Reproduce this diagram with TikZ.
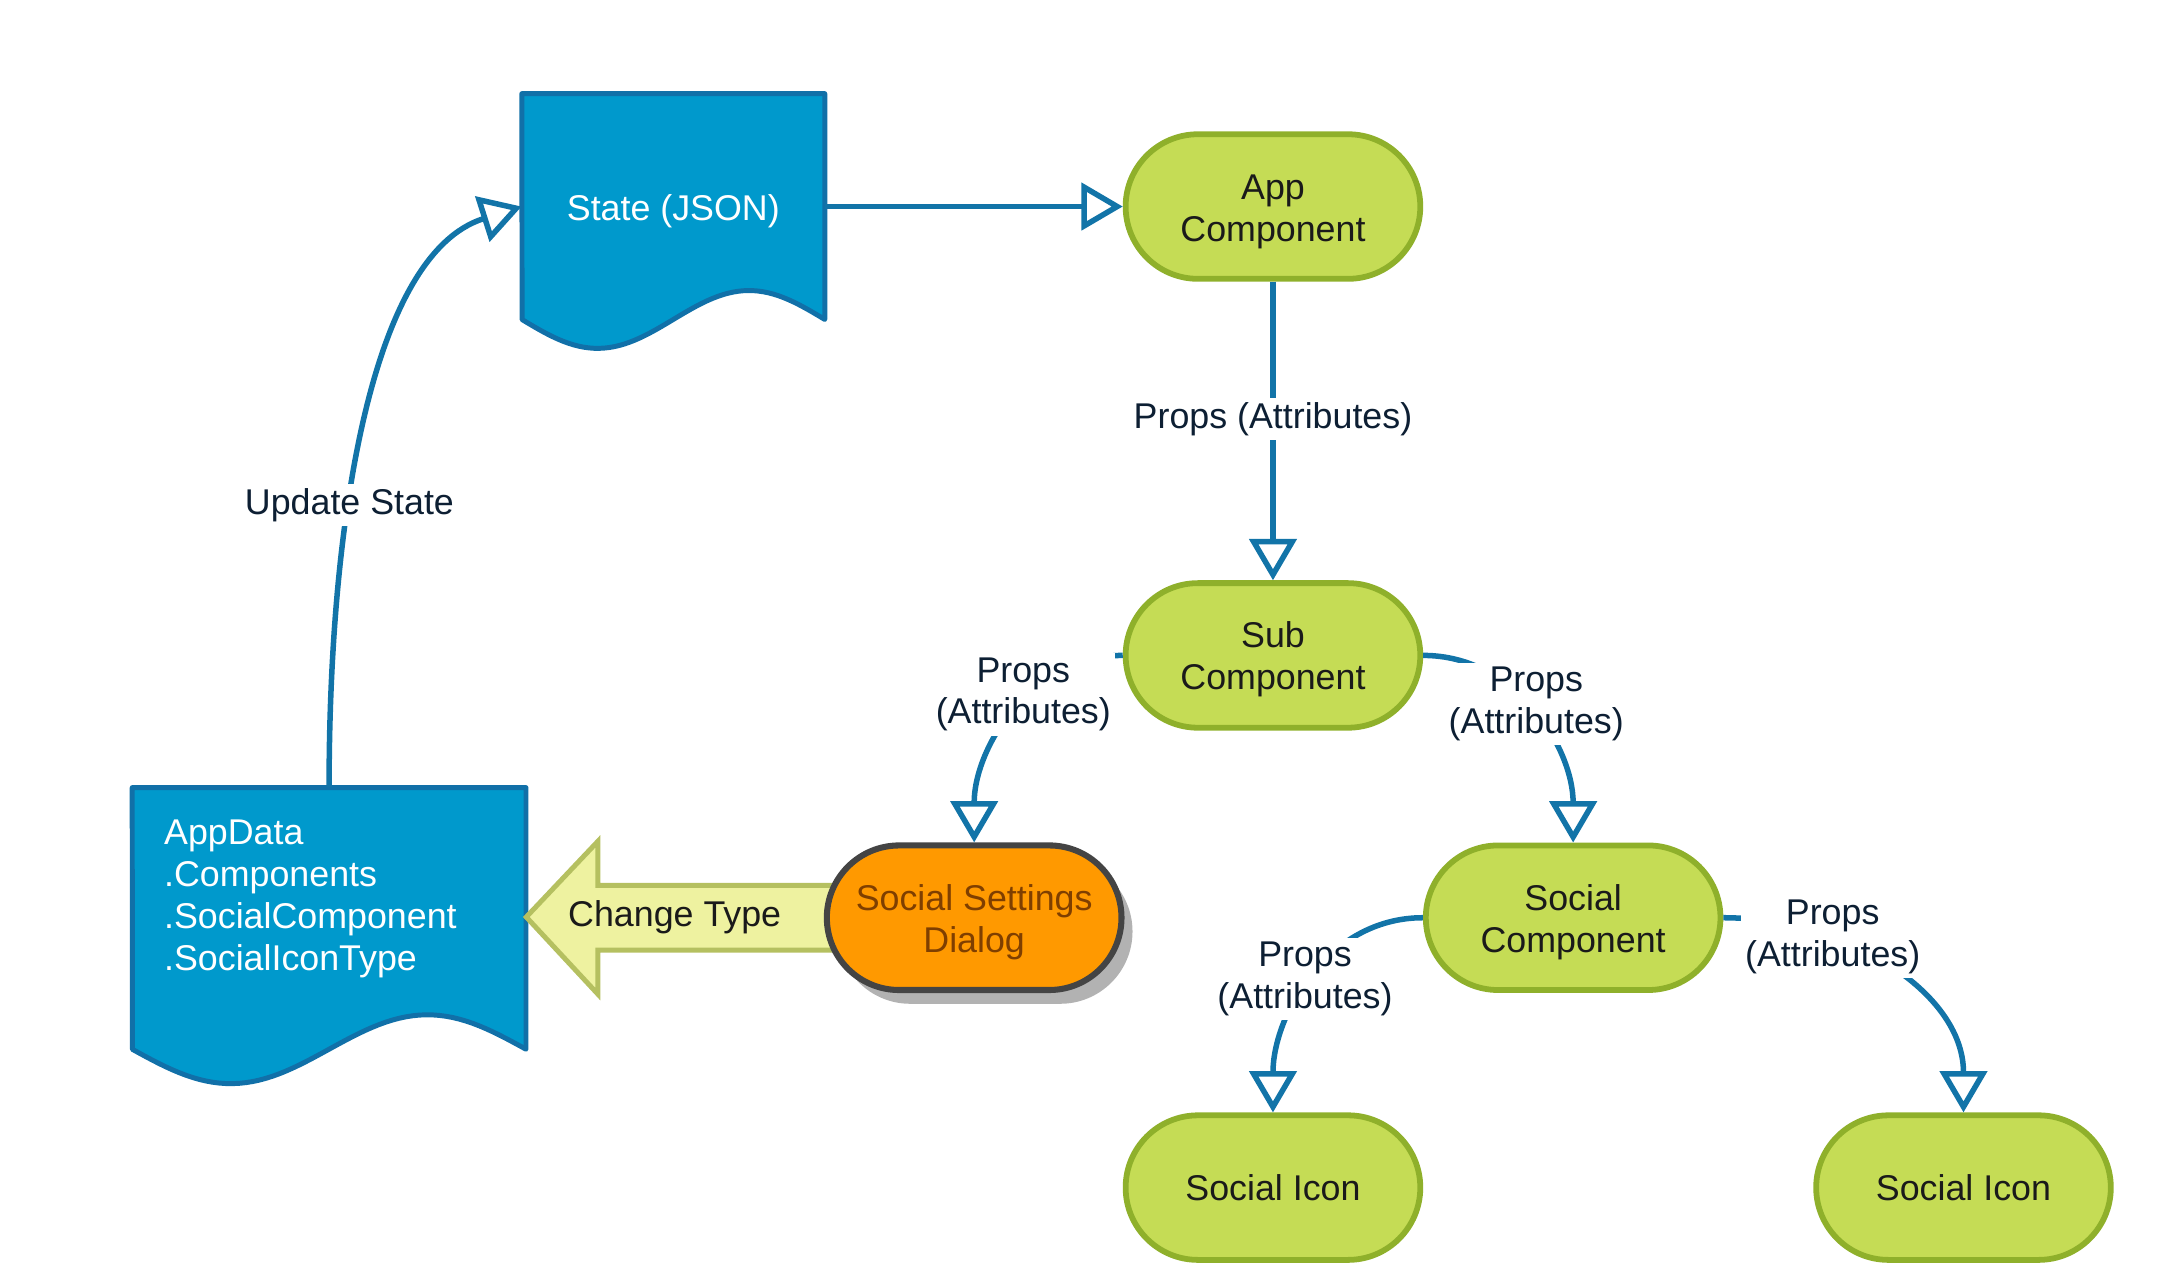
\documentclass[tikz,border=0pt]{standalone}
\usepackage{fontspec}
\setmainfont{Liberation Sans}
\usetikzlibrary{arrows.meta,shapes.misc,shadows,calc}
\definecolor{gfill}{HTML}{C5DC55}
\definecolor{gborder}{HTML}{8FB02B}
\definecolor{bfill}{HTML}{0099CC}
\definecolor{bborder}{HTML}{1170A8}
\definecolor{conncol}{HTML}{1274A8}
\definecolor{ofill}{HTML}{FF9900}
\definecolor{oborder}{HTML}{444444}
\definecolor{otext}{HTML}{7F3F00}
\definecolor{lblcol}{HTML}{0D1F33}
\definecolor{txtdark}{HTML}{1A1A1A}
\definecolor{yfill}{HTML}{EEF2A0}
\definecolor{yborder}{HTML}{B5C060}
\newcommand\dgfont{\fontsize{26}{30.5}\selectfont}
\newcommand\dgup{\rule{0pt}{25pt}}
\begin{document}
\begin{tikzpicture}[x=1pt,y=-1pt,
  comp/.style={rounded rectangle, draw=gborder, fill=gfill, line width=4.2pt,
    minimum width=214pt, minimum height=105pt, inner sep=0pt, align=center,
    text=txtdark, font=\dgfont},
  dialogbox/.style={comp, draw=oborder, fill=ofill, text=otext, line width=4.4pt,
    drop shadow={shadow xshift=8pt, shadow yshift=-10pt, fill=black!30, opacity=1}},
  docshape/.style={draw=bborder, fill=bfill, line width=3.6pt, line join=round},
  docnode/.style={rectangle, inner sep=0pt, text=white, font=\dgfont, align=center},
  conn/.style={draw=conncol, line width=4pt,
    -{Triangle[length=30pt,width=34pt,fill=white,line join=miter]}},
  lbl/.style={fill=white, text=lblcol, font=\dgfont, align=center, inner sep=3pt},
  changearrow/.style={draw=yborder, fill=yfill, line width=3.6pt, line join=miter}]
\useasboundingbox (0,0) rectangle (1568,935);

% documents
\draw[docshape] (379,68) -- (599,68) -- (599,232)
  -- plot[domain=1:0,samples=60] ({379+220*\x},{232+21*sin(360*\x)}) -- cycle;
\node[docnode, minimum width=220pt, minimum height=164pt] (state) at (489,150) {\dgup State (JSON)};

\draw[docshape] (96,572) -- (382,572) -- (382,762)
  -- plot[domain=1:0,samples=60] ({96+286*\x},{762+25*sin(360*\x)}) -- cycle;
\node[docnode, minimum width=286pt, minimum height=188pt] (appdata) at (239,666) {};
\node[docnode, anchor=west, align=left] (appdatatxt) at (119,653)
  {AppData\\.Components\\.SocialComponent\\.SocialIconType};

% change type block arrow
\draw[changearrow] (appdata.east) -- ++(52,-55) -- ++(0,32) -- ++(185,0)
  -- ++(0,47) -- ++(-185,0) -- ++(0,32) -- cycle;
\node[text=txtdark, font=\dgfont, inner sep=0pt] (ctlabel) at (490,666) {Change Type};

% components
\node[comp] (app) at (924.5,150) {\dgup App\\Component};
\node[comp] (sub) at (924.5,476) {\dgup Sub\\Component};
\node[comp] (soc) at (1142.5,666.5) {\dgup Social\\Component};
\node[comp] (icon1) at (924.5,862.5) {Social Icon};
\node[comp] (icon2) at (1426,862.5) {Social Icon};
\node[dialogbox] (dialog) at (707.5,666.5) {\dgup Social Settings\\Dialog};

% connectors
\draw[conn] (state.east) -- (app.west);
\draw[conn] (app.south) -- node[lbl,pos=0.45,yshift=-2pt] {Props (Attributes)} (sub.north);
\draw[conn] (sub.west) to[out=180,in=90]
  node[lbl,pos=0.4,xshift=-5pt] {Props\\(Attributes)} (dialog.north);
\draw[conn] (sub.east) to[out=0,in=90]
  node[lbl,pos=0.45,xshift=8pt] {Props\\(Attributes)} (soc.north);
\draw[conn] (soc.west) to[out=180,in=90]
  node[lbl,pos=0.5,xshift=-5pt] {Props\\(Attributes)} (icon1.north);
\draw[conn] (soc.east) to[out=0,in=90]
  node[lbl,pos=0.3,xshift=3pt] {Props\\(Attributes)} (icon2.north);
\draw[conn] (appdata.north) .. controls +(0,-190) and +(-110,35) ..
  node[lbl,pos=0.37] {Update State} (state.west);
\end{tikzpicture}
\end{document}
